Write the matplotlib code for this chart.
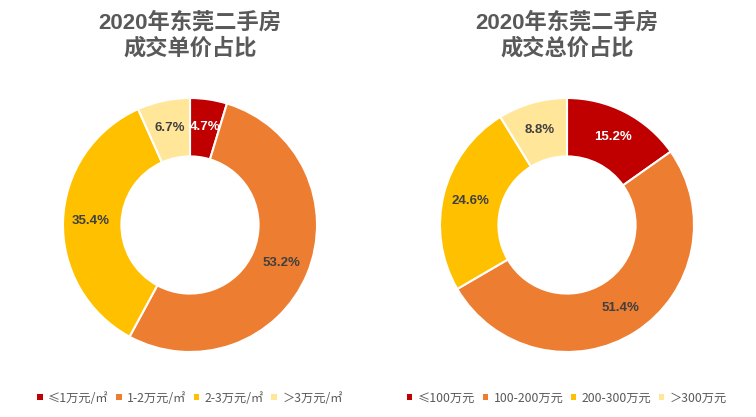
import matplotlib
matplotlib.use("Agg")
import matplotlib.pyplot as plt
from matplotlib.patches import Patch

plt.rcParams['font.family'] = ['Liberation Sans', 'Noto Sans CJK SC', 'DejaVu Sans']

left_title = "2020年东莞二手房\n成交单价占比"
left_labels = ["≤1万元/㎡", "1-2万元/㎡", "2-3万元/㎡", "＞3万元/㎡"]
left_values = [4.7, 53.2, 35.4, 6.7]

right_title = "2020年东莞二手房\n成交总价占比"
right_labels = ["≤100万元", "100-200万元", "200-300万元", "＞300万元"]
right_values = [15.2, 51.4, 24.6, 8.8]

colors = ["#C00000", "#ED7D31", "#FFC000", "#FFE699"]
label_colors = ["white", "#404040", "#404040", "#404040"]

W, H = 756, 417
fig = plt.figure(figsize=(W/100, H/100), dpi=100)

def donut(cx, cy, r, values, title, labels, legend_x):
    ax = fig.add_axes([(cx - r)/W, 1 - (cy + r)/H, 2*r/W, 2*r/H])
    wedges, texts = ax.pie(values, colors=colors, startangle=90, counterclock=False,
                           radius=1.0, wedgeprops=dict(width=0.46, edgecolor='white', linewidth=1.5),
                           labels=[f"{v}%" for v in values], labeldistance=0.78)
    for t, c in zip(texts, label_colors):
        t.set_color(c)
        t.set_fontsize(9.5)
        t.set_fontweight('bold')
        t.set_ha('center')
        t.set_va('center')
    ax.set_xlim(-1, 1)
    ax.set_ylim(-1, 1)
    ax.set_aspect('equal')
    ax.axis('off')
    fig.text(cx/W, 1 - 36/H, title, ha='center', va='center', fontsize=16,
             fontweight='bold', color='#595959', linespacing=1.25)
    handles = [Patch(facecolor=c, edgecolor='none') for c in colors]
    leg = fig.legend(handles, labels, loc='center', bbox_to_anchor=(legend_x/W, 1 - 398/H),
                     ncol=4, frameon=False, fontsize=8.8, handlelength=0.45, handleheight=0.45,
                     handletextpad=0.45, columnspacing=0.6, labelcolor='#595959')
    for t in leg.get_texts():
        t.set_family(['Noto Sans CJK SC', 'DejaVu Sans'])

donut(190, 225, 127, left_values, left_title, left_labels, 190)
donut(567, 225, 127, right_values, right_title, right_labels, 567)

fig.savefig("out.png", dpi=100, facecolor='white')
